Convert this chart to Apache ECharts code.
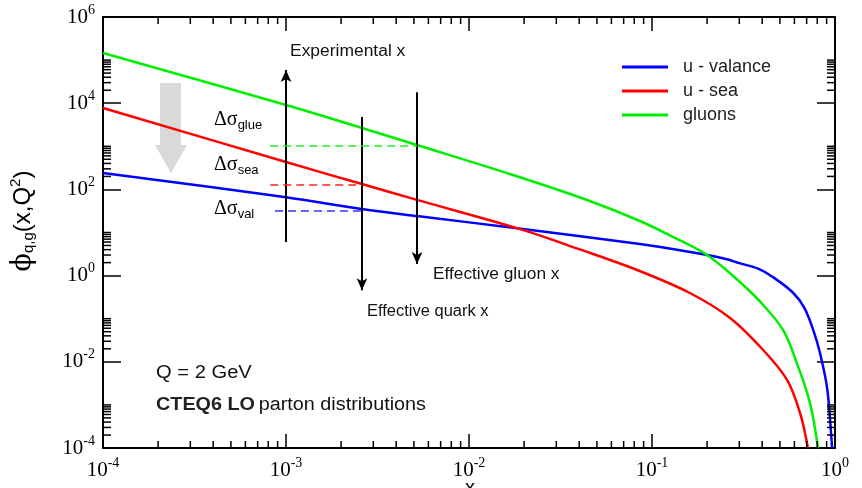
<!DOCTYPE html>
<html><head><meta charset="utf-8">
<script src="https://cdn.jsdelivr.net/npm/echarts@6/dist/echarts.min.js"></script>
<style>html,body{margin:0;padding:0;background:#fff}#c{width:862px;height:488px}</style>
</head><body><div id="c"></div><script>
// ---- data ----
const valX = [1e-4, 1e-3, 2.6e-3, 5.2e-3, 0.0183, 0.0859, 0.111, 0.2, 0.25, 0.30, 0.38, 0.457, 0.59, 0.68, 0.76, 0.828, 0.904, 0.94, 0.964];
const valY = [240, 66, 35, 24, 12.6, 5.4, 4.6, 3.0, 2.45, 1.95, 1.45, 0.93, 0.40, 0.178, 0.055, 0.016, 0.0026, 0.00045, 0.0001];
const seaX = [1e-4, 1e-3, 2.6e-3, 5.2e-3, 0.0183, 0.04, 0.0828, 0.161, 0.267, 0.405, 0.547, 0.644, 0.711];
const seaY = [7760, 432, 133, 57, 12.6, 4.1, 1.35, 0.395, 0.104, 0.0188, 0.0038, 0.00065, 0.0001];
const glX = [1e-4, 1e-3, 2.6e-3, 5.2e-3, 0.0174, 0.0442, 0.0859, 0.13, 0.2, 0.302, 0.4, 0.52, 0.619, 0.73, 0.807];
const glY = [146000, 9080, 2660, 1070, 216, 56.8, 18.5, 7.9, 3.0, 0.71, 0.22, 0.0547, 0.0093, 0.0011, 0.0001];
const seriesNames = ['u - valance', 'u - sea', 'gluons'];
const xRange = [1e-4, 1];
const yRange = [1e-4, 1e6];
const xMinorTicks = [2e-4,3e-4,4e-4,5e-4,6e-4,7e-4,8e-4,9e-4,2e-3,3e-3,4e-3,5e-3,6e-3,7e-3,8e-3,9e-3,
  0.02,0.03,0.04,0.05,0.06,0.07,0.08,0.09,0.2,0.3,0.4,0.5,0.6,0.7,0.8,0.9];
const yMinorTicks = [2e-4,3e-4,4e-4,5e-4,6e-4,7e-4,8e-4,9e-4,1e-3,
  0.02,0.03,0.04,0.05,0.06,0.07,0.08,0.09,0.1,
  2,3,4,5,6,7,8,9,10,
  200,300,400,500,600,700,800,900,1000,
  2e4,3e4,4e4,5e4,6e4,7e4,8e4,9e4,1e5];
// annotation anchors (data coordinates)
const expArrow = [[1e-3, 6], [1e-3, 5.9e4]];
const quarkArrow = [[2.6e-3, 4800], [2.6e-3, 0.46]];
const gluonArrow = [[5.2e-3, 1.8e4], [5.2e-3, 1.86]];
const glueDash = [[8.2e-4, 1017], [5.2e-3, 1017]];
const seaDash = [[8.2e-4, 126], [2.6e-3, 126]];
const valDash = [[8.7e-4, 32], [2.6e-3, 32]];

const zip = (a, b) => a.map((v, i) => [v, b[i]]);
const sup = v => {
  const e = Math.round(Math.log10(v));
  return '{b|10}{s|' + e + '}';
};
const labelRich = {
  b: {fontSize: 21, fontFamily: 'Liberation Serif', color: '#000'},
  s: {fontSize: 14, fontFamily: 'Liberation Serif', color: '#000', padding: [0, 0, 14, 0]}
};
const blk = '#000';
function mkX(pos, showLabel) {
  return {
    type: 'log', min: xRange[0], max: xRange[1], position: pos, interval: 1, logBase: 10,
    axisLine: {show: true, onZero: false, lineStyle: {color: blk, width: 2}},
    axisTick: {show: true, inside: true, length: 14, lineStyle: {color: blk, width: 1.5}},
    axisLabel: {show: showLabel, formatter: sup, rich: labelRich, margin: 8},
    splitLine: {show: false}
  };
}
function mkY(pos, showLabel) {
  return {
    type: 'log', min: yRange[0], max: yRange[1], position: pos, interval: 2, logBase: 10,
    axisLine: {show: true, onZero: false, lineStyle: {color: blk, width: 2}},
    axisTick: {show: true, inside: true, length: 18, lineStyle: {color: blk, width: 1.5}},
    axisLabel: {show: showLabel, formatter: sup, rich: labelRich, margin: 8},
    splitLine: {show: false}
  };
}
function arrowLine(pts, color) {
  return [{coord: pts[0], symbol: 'none', lineStyle: {color: color, width: 2, type: 'solid'}},
          {coord: pts[1], symbol: 'arrow', symbolSize: [8, 12]}];
}
function dashLine(pts, color) {
  return [{coord: pts[0], symbol: 'none', lineStyle: {color: color, width: 1.5, type: [8, 5]}},
          {coord: pts[1], symbol: 'none'}];
}
const chart = echarts.init(document.getElementById('c'), null, {renderer: 'canvas'});
const tickLine = (x1, y1, x2, y2) => ({type: 'line', shape: {x1, y1, x2, y2}, style: {stroke: blk, lineWidth: 1.5}});
const sans = 'Liberation Sans';
const txt = (x, y, text, size, sx) => ({type: 'text', x: x, y: y, scaleX: sx,
  style: {text: text, fontSize: size, fontFamily: sans, fill: '#111', textVerticalAlign: 'middle'}});
const dsig = (y, sub) => ({type: 'text', x: 214, y: y, style: {text: '{d|Δσ}{s|' + sub + '}', textVerticalAlign: 'middle',
  rich: {d: {fontSize: 20, fontFamily: 'Liberation Serif', fill: '#000'}, s: {fontSize: 13, fontFamily: sans, fill: '#000', padding: [11, 0, 0, 0]}}}});
const smoothAmt = 0.35;
chart.setOption({
  animation: false,
  backgroundColor: '#fff',
  grid: {left: 103, right: 27, top: 17, bottom: 40},
  xAxis: [mkX('bottom', true), mkX('top', false)],
  yAxis: [mkY('left', true), mkY('right', false)],
  legend: {
    orient: 'vertical', left: 617, top: 53, itemWidth: 46, itemHeight: 3, itemGap: 6, icon: 'rect',
    data: seriesNames,
    textStyle: {fontSize: 18, fontFamily: sans, color: '#222', padding: [0, 0, 0, 10], lineHeight: 18}
  },
  series: [
    {name: seriesNames[0], type: 'line', data: zip(valX, valY), symbol: 'none', showSymbol: false, smooth: smoothAmt,
     lineStyle: {color: '#0000ff', width: 2.5}, itemStyle: {color: '#0000ff'}, z: 3,
     markLine: {silent: true, animation: false, label: {show: false}, emphasis: {disabled: true},
       data: [dashLine(valDash, '#3333ff'), arrowLine(expArrow, blk), arrowLine(quarkArrow, blk), arrowLine(gluonArrow, blk)]}},
    {name: seriesNames[1], type: 'line', data: zip(seaX, seaY), symbol: 'none', showSymbol: false, smooth: smoothAmt,
     lineStyle: {color: '#ff0000', width: 2.5}, itemStyle: {color: '#ff0000'}, z: 3,
     markLine: {silent: true, animation: false, label: {show: false}, emphasis: {disabled: true},
       data: [dashLine(seaDash, '#ff2222')]}},
    {name: seriesNames[2], type: 'line', data: zip(glX, glY), symbol: 'none', showSymbol: false, smooth: smoothAmt,
     lineStyle: {color: '#00ee00', width: 2.5}, itemStyle: {color: '#00ee00'}, z: 3,
     markLine: {silent: true, animation: false, label: {show: false}, emphasis: {disabled: true},
       data: [dashLine(glueDash, '#22ee22')]}},
    {type: 'custom', silent: true, clip: false, z: 5, data: [[0.01, 1]],
     renderItem: function (params, api) {
       const lb = api.coord([xRange[0], yRange[0]]);
       const rt = api.coord([xRange[1], yRange[1]]);
       const ch = [];
       xMinorTicks.forEach(v => {
         const px = api.coord([v, 1])[0];
         ch.push(tickLine(px, lb[1], px, lb[1] - 7));
         ch.push(tickLine(px, rt[1], px, rt[1] + 7));
       });
       yMinorTicks.forEach(v => {
         const py = api.coord([0.01, v])[1];
         ch.push(tickLine(lb[0], py, lb[0] + 8, py));
         ch.push(tickLine(rt[0], py, rt[0] - 8, py));
       });
       return {type: 'group', children: ch};
     }}
  ],
  graphic: [
    {type: 'polygon', shape: {points: [[160, 83], [181, 83], [181, 145], [187, 145], [171, 173], [155, 145], [160, 145]]},
     style: {fill: '#d9d9d9'}, z: 1, silent: true},
    txt(290, 52, 'Experimental x', 16, 1.09),
    txt(433, 275, 'Effective gluon x', 16, 1.08),
    txt(367, 312, 'Effective quark x', 16, 1.03),
    dsig(120, 'glue'), dsig(165, 'sea'), dsig(209, 'val'),
    txt(156, 373, 'Q = 2 GeV', 18, 1.12),
    {type: 'text', x: 156, y: 405, scaleX: 1.1, style: {text: '{b|CTEQ6 LO} {n|parton distributions}', textVerticalAlign: 'middle',
      rich: {b: {fontSize: 18, fontFamily: sans, fontWeight: 'bold', fill: '#222'}, n: {fontSize: 18, fontFamily: sans, fill: '#111'}}}},
    {type: 'text', x: 23, y: 221, rotation: Math.PI / 2, style: {text: '{p|ϕ}{sub|q,g}{n|(x,Q}{sup|2}{n|)}', textAlign: 'center', textVerticalAlign: 'middle',
      rich: {p: {fontSize: 27, fontFamily: 'DejaVu Serif', fill: '#000'},
             sub: {fontSize: 15, fontFamily: sans, fill: '#000', padding: [12, 0, 0, 0]},
             n: {fontSize: 24, fontFamily: sans, fill: '#000'},
             sup: {fontSize: 15, fontFamily: sans, fill: '#000', padding: [0, 0, 15, 0]}}}},
    {type: 'text', x: 470, y: 478, style: {text: 'x', fontSize: 20, fontFamily: sans, fill: '#000', textAlign: 'center'}}
  ]
});
</script></body></html>
